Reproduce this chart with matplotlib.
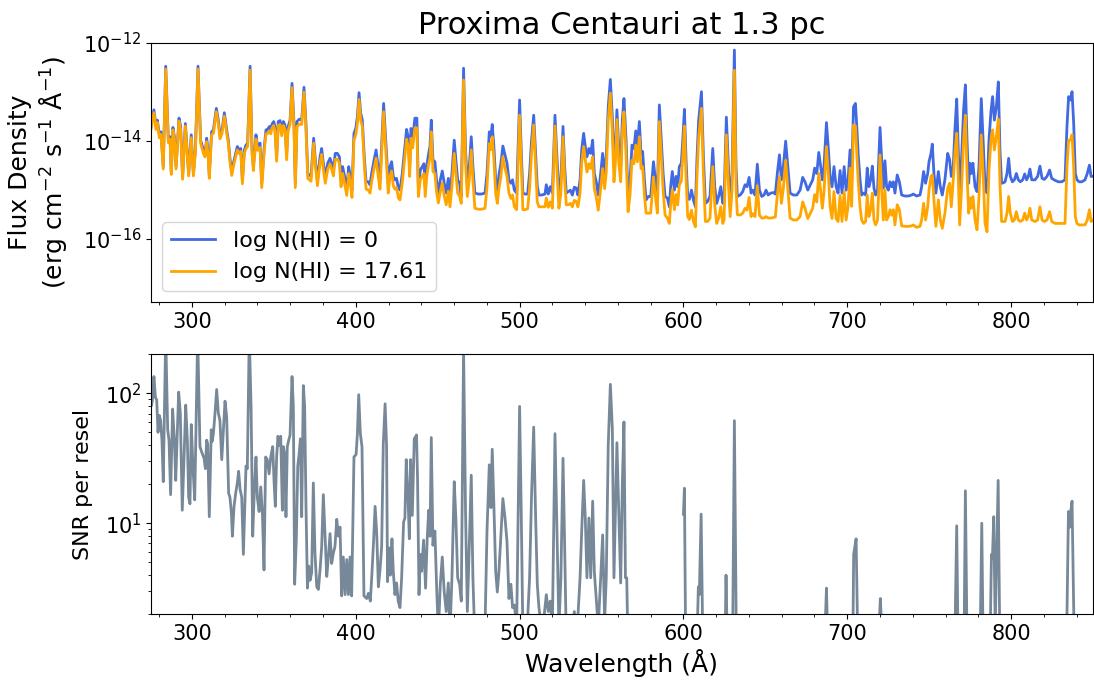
import numpy as np
import matplotlib
matplotlib.use('Agg')
import matplotlib.pyplot as plt
from matplotlib.ticker import MultipleLocator, FixedLocator, NullLocator

# spectrum: wavelength (A) and log10 flux density
wave = [
    275.0, 276.8, 278.1, 278.9, 280.1, 281.1, 282.5, 284.0, 285.6, 286.6,
    287.4, 288.4, 289.3, 290.3, 292.1, 293.1, 294.3, 296.0, 297.2, 298.0,
    299.6, 300.9, 302.1, 303.7, 305.3, 307.0, 308.0, 309.0, 309.8, 310.6,
    312.0, 313.1, 314.9, 316.1, 317.1, 318.4, 319.8, 321.2, 322.2, 323.2,
    324.3, 325.3, 326.7, 327.7, 328.7, 329.8, 330.8, 332.0, 333.0, 334.0,
    335.5, 336.7, 337.5, 339.1, 340.1, 341.6, 342.6, 344.0, 345.2, 346.0,
    347.3, 348.1, 348.9, 349.9, 350.7, 351.7, 352.7, 353.8, 354.8, 355.8,
    356.8, 357.8, 358.6, 359.9, 361.1, 362.3, 363.1, 364.1, 365.6, 367.0,
    368.4, 369.6, 370.7, 372.7, 374.3, 375.5, 376.6, 378.2, 379.2, 380.2,
    381.4, 382.9, 384.3, 385.3, 386.3, 387.5, 388.8, 390.0, 391.0, 392.0,
    393.0, 394.5, 395.7, 396.5, 397.7, 398.9, 400.0, 401.0, 402.0, 403.0,
    404.0, 405.3, 406.3, 407.7, 408.7, 409.7, 411.2, 412.4, 413.6, 414.8,
    417.0, 418.6, 419.8, 420.9, 421.9, 422.9, 423.9, 424.9, 426.0, 427.0,
    428.4, 429.6, 431.0, 432.0, 432.9, 433.7, 434.7, 436.1, 437.3, 438.2,
    439.4, 440.6, 441.6, 442.4, 443.4, 444.5, 445.3, 446.1, 447.1, 448.3,
    449.3, 450.4, 451.6, 452.8, 454.0, 455.2, 456.5, 457.5, 458.7, 460.1,
    461.1, 462.2, 463.4, 464.4, 465.8, 467.0, 468.1, 469.3, 470.5, 471.5,
    472.7, 474.8, 476.8, 478.9, 480.1, 481.5, 482.5, 483.3, 484.3, 485.4,
    486.4, 487.4, 488.6, 489.8, 491.1, 492.3, 493.5, 494.7, 495.7, 496.8,
    498.2, 500.0, 501.0, 502.0, 503.3, 504.9, 506.1, 507.3, 508.6, 509.8,
    510.8, 511.8, 513.4, 515.5, 516.3, 517.5, 518.7, 520.0, 521.6, 522.8,
    524.0, 525.2, 526.5, 527.5, 528.5, 529.7, 531.0, 532.2, 533.4, 534.6,
    535.6, 536.9, 537.9, 539.1, 540.1, 541.1, 542.3, 543.4, 544.6, 545.6,
    546.8, 548.0, 549.5, 550.7, 551.9, 552.9, 554.1, 555.4, 556.6, 557.6,
    558.4, 559.4, 560.5, 561.7, 562.7, 563.7, 565.0, 566.2, 567.4, 568.6,
    569.8, 570.9, 571.9, 573.1, 574.1, 575.1, 576.2, 577.2, 578.6, 580.0,
    581.7, 582.9, 584.1, 585.3, 586.5, 587.6, 588.8, 590.2, 591.4, 592.2,
    593.2, 594.5, 595.5, 596.5, 597.5, 598.7, 599.6, 600.6, 601.6, 602.6,
    603.6, 604.9, 606.1, 607.3, 608.3, 609.3, 611.0, 612.2, 613.4, 614.8,
    616.2, 617.9, 619.1, 620.3, 621.5, 622.8, 624.0, 624.8, 626.2, 627.4,
    628.5, 629.7, 631.1, 632.1, 632.9, 634.6, 636.2, 637.6, 638.8, 640.1,
    641.3, 642.3, 643.7, 645.1, 646.4, 647.8, 649.2, 650.4, 651.7, 653.3,
    654.9, 656.1, 657.3, 658.6, 659.8, 661.0, 662.4, 663.7, 665.1, 667.1,
    669.2, 671.2, 672.8, 674.2, 675.9, 678.9, 680.1, 681.4, 682.6, 683.8,
    684.8, 685.8, 687.3, 688.5, 689.5, 690.7, 691.9, 693.2, 694.4, 695.6,
    696.8, 698.1, 699.3, 700.5, 701.7, 702.7, 703.8, 705.0, 705.7, 706.7,
    707.8, 708.8, 710.0, 711.2, 712.2, 713.2, 714.3, 715.3, 716.3, 717.3,
    718.5, 720.0, 721.0, 722.0, 723.0, 724.0, 725.1, 726.1, 727.1, 728.1,
    729.1, 730.5, 731.8, 733.2, 735.2, 737.3, 739.3, 740.3, 742.3, 744.4,
    745.4, 746.6, 747.8, 749.1, 749.9, 751.1, 751.9, 752.9, 754.1, 755.6,
    756.8, 758.0, 759.6, 761.3, 762.5, 763.5, 764.7, 765.7, 766.8, 767.8,
    768.6, 769.8, 771.0, 772.1, 773.1, 774.1, 774.9, 775.7, 776.7, 778.0,
    779.2, 780.4, 781.8, 783.0, 784.1, 785.3, 786.5, 787.7, 788.7, 789.8,
    791.0, 792.2, 793.2, 794.2, 795.3, 796.3, 797.5, 798.5, 799.5, 800.8,
    802.0, 803.2, 804.4, 805.6, 807.1, 808.3, 809.5, 810.5, 811.5, 812.6,
    814.6, 816.2, 817.6, 818.9, 820.3, 821.9, 823.5, 824.8, 826.8, 828.8,
    830.9, 832.9, 834.1, 835.1, 836.2, 837.2, 838.2, 839.2, 840.2, 841.5,
    843.1, 845.1, 846.5, 847.8, 848.8, 850.0,
]

# log N(HI) = 0
logflux_nh0 = [
    -13.71, -13.37, -13.71, -13.58, -13.88, -13.82, -14.53, -12.48, -13.99, -13.92,
    -14.63, -13.73, -13.92, -14.53, -13.54, -13.71, -14.73, -13.65, -14.26, -14.67,
    -13.88, -14.67, -14.19, -12.48, -13.99, -14.19, -14.26, -13.95, -14.19, -14.70,
    -13.82, -13.78, -13.34, -13.58, -13.88, -13.78, -13.43, -13.78, -13.99, -14.36,
    -14.63, -14.46, -14.26, -14.12, -14.19, -14.16, -14.80, -14.19, -14.09, -14.05,
    -12.48, -14.19, -14.53, -13.88, -14.12, -14.05, -14.87, -14.19, -13.78, -13.78,
    -13.71, -13.78, -13.66, -13.61, -13.71, -14.33, -13.61, -13.59, -13.82, -13.61,
    -13.68, -14.29, -13.73, -13.58, -12.83, -13.65, -14.87, -13.61, -13.56, -13.58,
    -12.91, -13.65, -14.67, -14.73, -13.95, -14.46, -14.80, -14.33, -14.16, -14.46,
    -14.73, -14.46, -14.36, -14.46, -14.60, -14.26, -14.26, -14.33, -14.80, -14.53,
    -14.70, -14.97, -14.53, -14.70, -15.01, -13.85, -13.75, -13.51, -13.02, -13.44,
    -13.58, -14.39, -14.84, -14.84, -14.90, -14.67, -14.39, -14.19, -14.53, -14.80,
    -13.24, -14.19, -14.87, -14.53, -14.43, -14.73, -14.80, -14.77, -14.97, -15.01,
    -14.67, -14.26, -13.77, -13.92, -14.53, -13.75, -13.95, -13.54, -13.54, -14.94,
    -14.60, -14.53, -14.47, -14.94, -14.50, -14.26, -14.12, -13.58, -14.39, -14.43,
    -14.80, -15.07, -14.80, -14.62, -14.87, -15.07, -14.77, -15.11, -14.67, -13.99,
    -14.39, -14.80, -14.87, -15.14, -12.52, -14.19, -14.87, -14.53, -13.92, -14.53,
    -15.07, -15.09, -15.09, -15.07, -14.67, -13.82, -13.92, -13.67, -14.12, -14.80,
    -15.01, -14.70, -14.46, -14.11, -14.29, -14.46, -14.80, -14.87, -14.80, -15.01,
    -15.07, -13.17, -14.19, -15.07, -15.09, -15.09, -14.67, -13.99, -13.48, -14.26,
    -14.94, -15.11, -15.11, -15.09, -14.90, -15.09, -14.94, -15.07, -13.48, -14.33,
    -15.07, -14.80, -13.71, -14.53, -15.07, -15.04, -15.01, -15.11, -14.95, -14.97,
    -15.11, -14.80, -14.19, -13.85, -14.12, -14.33, -14.16, -14.26, -13.99, -14.67,
    -14.84, -15.11, -14.67, -14.26, -14.67, -14.33, -13.31, -12.75, -13.51, -14.53,
    -14.19, -13.37, -14.12, -14.53, -13.58, -13.14, -13.99, -15.14, -14.80, -14.09,
    -14.16, -13.80, -14.12, -13.61, -14.26, -14.22, -14.80, -15.21, -15.14, -15.14,
    -14.43, -14.80, -15.14, -13.27, -13.99, -14.67, -15.14, -15.17, -15.35, -14.94,
    -14.63, -15.01, -14.73, -14.94, -14.53, -14.46, -13.99, -13.36, -14.39, -15.14,
    -15.20, -15.01, -15.21, -15.35, -14.33, -13.58, -13.00, -14.33, -15.28, -15.24,
    -15.14, -14.16, -14.94, -15.28, -15.14, -14.94, -15.28, -15.21, -13.52, -14.46,
    -15.35, -14.67, -12.15, -14.53, -15.14, -15.11, -15.04, -14.90, -14.94, -14.75,
    -15.07, -15.01, -15.11, -14.48, -15.01, -15.14, -15.11, -15.01, -15.11, -15.07,
    -15.06, -15.09, -14.67, -14.29, -14.80, -14.53, -14.01, -14.53, -15.07, -15.11,
    -15.11, -15.01, -14.75, -14.84, -15.01, -14.80, -14.56, -14.67, -14.24, -14.53,
    -14.80, -14.53, -13.63, -14.19, -14.73, -14.94, -14.53, -14.94, -15.07, -14.61,
    -15.07, -14.53, -15.01, -14.80, -14.19, -14.80, -13.31, -13.24, -13.65, -14.29,
    -14.80, -15.11, -15.07, -15.11, -14.56, -14.94, -14.80, -14.52, -14.97, -15.11,
    -15.01, -13.73, -14.39, -14.97, -14.41, -14.94, -15.01, -14.84, -14.94, -14.84,
    -15.07, -14.70, -14.84, -15.11, -15.13, -15.13, -15.11, -15.09, -15.13, -15.11,
    -14.94, -14.63, -14.87, -14.67, -14.43, -14.26, -14.07, -14.67, -15.07, -14.63,
    -14.94, -15.11, -14.80, -14.26, -14.39, -14.73, -14.53, -13.78, -13.15, -14.19,
    -15.07, -14.33, -13.37, -12.86, -13.99, -14.87, -14.46, -14.67, -14.46, -14.94,
    -15.04, -14.53, -13.14, -14.05, -14.94, -15.07, -13.99, -13.41, -13.10, -13.58,
    -13.31, -12.80, -14.19, -14.87, -14.86, -14.84, -14.67, -14.36, -14.73, -14.84,
    -14.80, -14.67, -14.80, -14.84, -14.80, -14.68, -14.80, -14.73, -14.58, -14.80,
    -14.80, -14.73, -14.52, -14.77, -14.79, -14.73, -14.60, -14.77, -14.81, -14.84,
    -14.84, -14.80, -13.71, -13.10, -13.17, -13.00, -13.65, -14.67, -14.80, -14.84,
    -14.84, -14.80, -14.67, -14.50, -14.73, -14.73,
]

# log N(HI) = 17.61
logflux_nh1761 = [
    -13.77, -13.43, -13.77, -13.63, -13.94, -13.87, -14.58, -12.54, -14.04, -13.97,
    -14.69, -13.78, -13.97, -14.58, -13.60, -13.77, -14.79, -13.70, -14.31, -14.72,
    -13.94, -14.72, -14.24, -12.54, -14.05, -14.26, -14.33, -14.02, -14.26, -14.77,
    -13.88, -13.85, -13.41, -13.65, -13.96, -13.85, -13.50, -13.85, -14.05, -14.43,
    -14.71, -14.53, -14.33, -14.19, -14.26, -14.22, -14.88, -14.26, -14.16, -14.12,
    -12.56, -14.27, -14.61, -13.97, -14.20, -14.14, -14.96, -14.27, -13.86, -13.86,
    -13.80, -13.86, -13.74, -13.69, -13.80, -14.42, -13.69, -13.67, -13.90, -13.69,
    -13.76, -14.39, -13.81, -13.66, -12.92, -13.74, -14.96, -13.71, -13.66, -13.67,
    -13.01, -13.75, -14.77, -14.83, -14.05, -14.56, -14.92, -14.45, -14.28, -14.58,
    -14.87, -14.58, -14.48, -14.58, -14.72, -14.38, -14.38, -14.45, -14.94, -14.67,
    -14.84, -15.12, -14.67, -14.84, -15.16, -13.99, -13.88, -13.65, -13.16, -13.58,
    -13.71, -14.54, -14.99, -15.01, -15.07, -14.84, -14.56, -14.36, -14.70, -14.99,
    -13.41, -14.38, -15.07, -14.72, -14.62, -14.92, -14.99, -14.96, -15.17, -15.21,
    -14.86, -14.45, -13.97, -14.12, -14.73, -13.95, -14.15, -13.74, -13.74, -15.14,
    -14.80, -14.73, -14.67, -15.14, -14.71, -14.47, -14.36, -13.82, -14.63, -14.67,
    -15.04, -15.27, -15.04, -14.87, -15.13, -15.31, -15.03, -15.35, -14.93, -14.26,
    -14.66, -15.07, -15.14, -15.28, -12.76, -14.45, -15.14, -14.80, -14.19, -14.80,
    -15.38, -15.40, -15.40, -15.38, -14.94, -14.06, -14.18, -13.92, -14.39, -15.07,
    -15.28, -14.97, -14.73, -14.33, -14.56, -14.73, -15.07, -15.18, -15.11, -15.35,
    -15.41, -13.48, -14.46, -15.41, -15.41, -15.39, -14.97, -14.26, -13.68, -14.53,
    -15.25, -15.35, -15.35, -15.35, -15.17, -15.36, -15.25, -15.38, -13.70, -14.60,
    -15.38, -15.07, -13.92, -14.80, -15.31, -15.31, -15.28, -15.35, -15.22, -15.24,
    -15.35, -15.07, -14.46, -14.12, -14.39, -14.64, -14.47, -14.57, -14.33, -14.98,
    -15.15, -15.42, -14.98, -14.57, -14.98, -14.64, -13.59, -13.03, -13.82, -14.84,
    -14.50, -13.57, -14.43, -14.84, -13.85, -13.41, -14.30, -15.45, -15.11, -14.40,
    -14.47, -14.09, -14.43, -13.92, -14.57, -14.53, -15.11, -15.48, -15.48, -15.48,
    -14.74, -15.14, -15.48, -13.61, -14.33, -15.01, -15.52, -15.58, -15.69, -15.31,
    -15.00, -15.41, -15.10, -15.31, -14.90, -14.83, -14.33, -13.70, -14.76, -15.55,
    -15.61, -15.42, -15.65, -15.76, -14.70, -13.95, -13.34, -14.70, -15.65, -15.65,
    -15.58, -14.53, -15.31, -15.69, -15.58, -15.35, -15.69, -15.62, -13.88, -14.83,
    -15.55, -15.01, -12.56, -14.94, -15.51, -15.52, -15.48, -15.38, -15.42, -15.16,
    -15.55, -15.49, -15.55, -14.92, -15.52, -15.58, -15.58, -15.55, -15.58, -15.58,
    -15.57, -15.56, -15.11, -14.73, -15.28, -14.97, -14.40, -14.97, -15.58, -15.62,
    -15.62, -15.55, -15.25, -15.38, -15.59, -15.38, -15.10, -15.25, -14.67, -15.04,
    -15.38, -15.04, -14.12, -14.70, -15.34, -15.59, -15.04, -15.59, -15.65, -15.12,
    -15.65, -15.04, -15.62, -15.34, -14.56, -15.34, -13.68, -13.70, -14.19, -14.84,
    -15.35, -15.62, -15.69, -15.65, -15.11, -15.55, -15.41, -15.07, -15.62, -15.72,
    -15.62, -14.29, -15.01, -15.62, -15.01, -15.62, -15.55, -15.41, -15.52, -15.41,
    -15.72, -15.31, -15.41, -15.74, -15.75, -15.75, -15.74, -15.72, -15.77, -15.75,
    -15.62, -15.28, -15.62, -15.35, -15.01, -14.73, -14.70, -15.21, -15.75, -15.21,
    -15.62, -15.79, -15.48, -14.97, -14.87, -15.35, -14.80, -14.26, -13.85, -14.80,
    -15.72, -14.94, -13.99, -13.48, -14.67, -15.48, -15.17, -15.38, -15.14, -15.62,
    -15.82, -15.14, -13.88, -14.73, -15.69, -15.86, -14.60, -13.99, -13.78, -14.19,
    -13.92, -13.56, -14.87, -15.65, -15.65, -15.65, -15.48, -15.14, -15.48, -15.65,
    -15.62, -15.45, -15.62, -15.65, -15.62, -15.48, -15.62, -15.55, -15.38, -15.62,
    -15.65, -15.62, -15.35, -15.62, -15.65, -15.62, -15.45, -15.65, -15.69, -15.69,
    -15.69, -15.69, -14.53, -13.99, -13.99, -13.88, -14.53, -15.55, -15.69, -15.72,
    -15.72, -15.72, -15.62, -15.41, -15.65, -15.62,
]

# SNR per resel, log10 (nan = gap in the data)
snr_wave = [
    275.4, 276.0, 276.8, 277.7, 278.5, 279.3, 280.1, 280.9, 281.7, 282.5,
    284.0, 285.2, 286.0, 287.0, 288.2, 289.3, 290.1, 290.9, 291.9, 292.9,
    294.1, 295.2, 296.2, 297.2, 298.0, 298.8, 299.6, 300.7, 301.7, 303.5,
    304.9, 306.2, 307.4, 308.2, 309.0, 309.6, 310.6, 311.8, 312.3, 313.1,
    314.1, 315.1, 316.1, 317.1, 318.2, 319.2, 320.2, 321.2, 322.4, 323.2,
    324.1, 324.7, 325.7, 326.7, 327.7, 328.5, 329.4, 330.4, 331.4, 332.4,
    333.0, 333.8, 335.0, 336.1, 337.1, 338.1, 339.1, 339.9, 341.0, 342.0,
    343.0, 344.0, 345.0, 346.0, 347.1, 348.1, 349.3, 350.1, 350.9, 351.7,
    352.5, 353.4, 354.2, 355.2, 355.8, 356.6, 357.4, 358.2, 359.1, 359.9,
    361.1, 361.9, 362.7, 363.7, 364.6, 365.4, 366.2, 367.0, 368.0, 368.8,
    369.6, 370.5, 371.3, 372.1, 373.1, 374.1, 375.1, 376.2, 377.2, 378.2,
    379.2, 380.2, 381.2, 382.3, 383.3, 384.3, 385.3, 386.3, 387.3, 388.4,
    389.4, 390.4, 391.4, 392.4, 393.5, 394.5, 395.5, 396.5, 397.5, 398.9,
    400.2, 401.0, 401.8, 402.8, 403.8, 405.0, 406.7, 407.7, 408.9, 409.9,
    410.9, 411.8, 412.8, 413.8, 414.8, 415.8, 416.8, 417.9, 418.8, 419.4,
    420.2, 421.1, 422.1, 422.9, 423.9, 424.9, 425.9, 427.0, 428.0, 429.2,
    430.0, 430.8, 431.8, 432.7, 433.5, 434.5, 435.7, 437.1, 437.7, 438.6,
    439.4, 440.2, 441.4, 442.6, 443.6, 444.5, 445.3, 446.1, 447.1, 448.3,
    449.3, 450.4, 451.6, 452.8, 454.0, 455.2, 456.5, 457.5, 458.7, 460.1,
    461.1, 462.2, 463.4, 464.4, 465.8, 467.0, 468.1, 469.3, 470.5, 471.5,
    472.7, 475.8, 478.9, 480.1, 481.5, 482.5, 483.3, 484.3, 485.4, 486.4,
    487.4, 488.6, 489.8, 491.1, 492.3, 493.5, 494.7, 495.7, 496.8, 498.2,
    500.0, 501.0, 502.0, 504.3, 506.1, 507.3, 508.6, 509.8, 510.8, 511.8,
    513.9, 516.3, 517.5, 518.7, 520.0, 521.6, 522.8, 524.0, 525.2, 526.5,
    527.5, 528.5, 530.7, 533.4, 534.8, 536.9, 537.9, 539.1, 540.1, 541.1,
    542.3, 543.4, 544.6, 545.6, 546.8, 548.0, 549.5, 550.7, 551.9, 552.9,
    554.1, 555.4, 556.6, 557.6, 558.4, 559.4, 560.5, 561.7, 562.7, 563.7,
    564.6, 565.4, 566.2, 577.0, 590.0, 599.0, 600.0, 600.6, 601.4, 605.0,
    608.7, 609.1, 609.7, 610.8, 611.8, 618.0, 625.6, 626.0, 626.6, 630.1,
    631.1, 632.3, 660.0, 686.5, 687.3, 687.9, 703.5, 703.9, 705.4, 706.4,
    719.6, 720.2, 720.8, 745.0, 765.8, 766.8, 767.6, 771.3, 772.1, 773.1,
    781.1, 782.1, 782.9, 787.2, 788.0, 788.6, 789.4, 790.3, 792.1, 793.1,
    815.0, 834.0, 835.0, 835.8, 836.4, 837.2, 838.5, 850.0,
]

log_snr = [
    1.91, 1.96, 2.13, 1.97, 1.95, 1.70, 1.83, 1.79, 1.64, 1.32,
    2.45, 1.72, 1.64, 1.22, 1.88, 1.64, 1.33, 1.64, 2.01, 1.85,
    1.10, 1.51, 1.91, 1.64, 1.20, 1.15, 1.76, 1.41, 1.18, 2.45,
    1.59, 1.54, 1.50, 1.42, 1.64, 1.61, 1.05, 1.72, 1.63, 1.69,
    1.85, 2.03, 1.85, 1.79, 1.49, 1.72, 1.94, 1.82, 1.23, 1.20,
    1.08, 0.90, 1.13, 1.23, 1.31, 1.40, 1.26, 1.20, 0.76, 1.18,
    1.44, 1.42, 2.45, 1.90, 0.90, 1.26, 1.51, 1.20, 1.09, 1.28,
    1.08, 0.64, 1.51, 1.49, 1.38, 1.51, 1.59, 1.33, 1.13, 1.51,
    1.67, 1.60, 1.67, 1.10, 1.59, 1.53, 1.05, 1.59, 1.64, 1.68,
    2.13, 1.90, 0.53, 0.87, 1.44, 1.53, 1.65, 1.05, 2.06, 1.90,
    1.15, 0.50, 0.67, 0.56, 0.62, 1.31, 0.77, 0.51, 0.49, 0.64,
    0.82, 1.22, 0.92, 0.59, 0.74, 0.92, 0.69, 0.77, 0.82, 1.03,
    0.90, 0.97, 0.44, 0.74, 0.45, 0.72, 0.45, 0.74, 0.44, 1.51,
    1.53, 1.69, 1.99, 1.69, 1.59, 0.44, 0.42, 0.46, 0.40, 0.62,
    0.87, 1.13, 0.92, 0.51, 0.64, 0.82, 1.61, 1.92, 1.60, 0.55,
    0.81, 0.60, 0.88, 0.63, 0.45, 0.54, 0.40, 0.35, 0.58, 1.01,
    1.04, 1.49, 1.24, 0.88, 1.49, 1.06, 1.65, 1.68, 1.35, 0.45,
    0.76, 0.63, 0.87, 0.50, 0.88, 1.10, 0.90, 1.66, 0.83, 0.94,
    0.53, 0.15, 0.53, 0.74, 0.47, 0.32, 0.54, 0.15, 0.58, 1.32,
    1.04, 0.58, 0.53, 0.40, 2.35, 1.09, 0.32, 0.83, 1.37, 0.58,
    0.10, 0.05, 0.20, 0.94, 1.45, 1.12, 1.57, 1.14, 0.63, 0.47,
    0.63, 0.91, 1.19, 1.04, 0.86, 0.42, 0.53, 0.35, 0.37, 0.20,
    1.90, 1.09, 0.15, 0.10, 0.58, 1.22, 1.74, 1.04, 0.53, 0.35,
    0.15, 0.45, 0.32, 0.40, 0.20, 1.69, 0.94, 0.20, 0.58, 1.50,
    0.83, 0.10, 0.05, 0.32, 0.10, 0.58, 0.94, 1.33, 1.04, 0.58,
    1.04, 0.58, 1.17, 0.63, 0.42, 0.20, 0.58, 0.91, 0.25, 0.58,
    1.60, 2.07, 1.73, 0.58, 1.04, 1.62, 1.09, 0.54, 1.30, 1.78,
    0.58, 0.58, 0.00, -0.30, -0.30, np.nan, 1.07, 1.27, 0.00, -0.20,
    0.30, 0.51, 0.45, 1.07, 0.10, -0.20, 0.25, 0.60, 0.20, 0.20,
    1.79, 0.10, -0.30, 0.20, 0.50, 0.20, 0.20, 0.76, 0.88, 0.10,
    0.25, 0.42, 0.25, -0.30, 0.20, 0.98, 0.10, 0.10, 1.25, 0.10,
    0.10, 1.00, 0.10, 0.10, 0.76, 0.73, 1.05, 0.20, 1.33, 0.10,
    -0.30, 0.20, 1.09, 0.97, 1.09, 1.17, 0.10, -0.30,
]

flux_nh0 = 10 ** np.array(logflux_nh0)
flux_nh1761 = 10 ** np.array(logflux_nh1761)
snr = 10 ** np.array(log_snr, dtype=float)

fig = plt.figure(figsize=(10.94, 6.86), dpi=100)
ax1 = fig.add_axes([0.138, 0.5593, 0.8611, 0.3784])
ax2 = fig.add_axes([0.138, 0.105, 0.8611, 0.3785])

ax1.plot(wave, flux_nh0, color='royalblue', lw=2, label='log N(HI) = 0')
ax1.plot(wave, flux_nh1761, color='orange', lw=2, label='log N(HI) = 17.61')
ax1.set_yscale('log')
ax1.set_ylim(5e-18, 1e-12)
ax1.set_xlim(275, 850)
ax1.yaxis.set_major_locator(FixedLocator([1e-16, 1e-14, 1e-12]))
ax1.yaxis.set_minor_locator(NullLocator())
ax1.set_title('Proxima Centauri at 1.3 pc', fontsize=22)
ax1.set_ylabel('Flux Density\n(erg cm$^{-2}$ s$^{-1}$ Å$^{-1}$)', fontsize=18,
               labelpad=10)
ax1.legend(loc='lower left', fontsize=16)

ax2.plot(snr_wave, snr, color='lightslategray', lw=2)
ax2.set_yscale('log')
ax2.set_ylim(2, 200)
ax2.set_xlim(275, 850)
ax2.set_xlabel('Wavelength (Å)', fontsize=18)
ax2.set_ylabel('SNR per resel', fontsize=16, labelpad=8)

for ax in (ax1, ax2):
    ax.xaxis.set_minor_locator(MultipleLocator(20))
    ax.tick_params(axis='both', which='major', labelsize=15)

fig.savefig('out.png', dpi=100)
